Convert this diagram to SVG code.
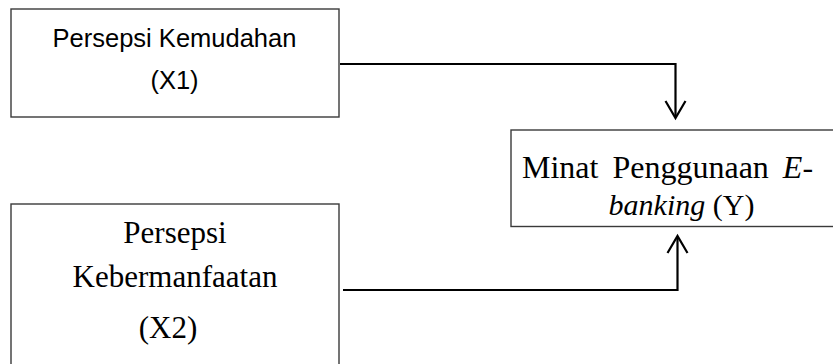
<svg xmlns="http://www.w3.org/2000/svg" width="833" height="364" viewBox="0 0 833 364">
<style>
.box{fill:#fff;stroke:#3a3a3a;stroke-width:1.4}
.con{fill:none;stroke:#000;stroke-width:2.2}
.sans{font-family:"Liberation Sans","Open Sans",sans-serif;font-size:25.5px;fill:#000}
.serif{font-family:"Liberation Serif","Times New Roman",serif;fill:#000}
</style>
<rect width="833" height="364" fill="#fff"/>
<g id="connectors">
<path class="con" d="M340,64 H675.5 V117"/>
<path class="con" d="M665.5,101 L675.5,118 L685.5,101"/>
<path class="con" d="M343,290 H677.5 V237"/>
<path class="con" d="M667.5,253 L677.5,236 L687.5,253"/>
</g>
<g id="x1">
<rect class="box" x="11" y="9" width="328" height="108"/>
<text class="sans" x="174.5" y="47" text-anchor="middle">Persepsi Kemudahan</text>
<text class="sans" x="174.5" y="89" text-anchor="middle">(X1)</text>
</g>
<g id="y">
<rect class="box" x="511" y="130" width="330" height="96.5"/>
<text class="serif" font-size="32" x="522" y="178" word-spacing="6">Minat Penggunaan <tspan font-style="italic">E</tspan>-</text>
<text class="serif" font-size="30" x="681.5" y="215" text-anchor="middle"><tspan font-style="italic">banking</tspan> (Y)</text>
</g>
<g id="x2">
<rect class="box" x="11" y="204" width="328" height="170"/>
<text class="serif" font-size="31" x="175" y="243" text-anchor="middle">Persepsi</text>
<text class="serif" font-size="31" x="175" y="286.5" text-anchor="middle">Kebermanfaatan</text>
<text class="serif" font-size="31" x="168" y="338" text-anchor="middle">(X2)</text>
</g>
</svg>
